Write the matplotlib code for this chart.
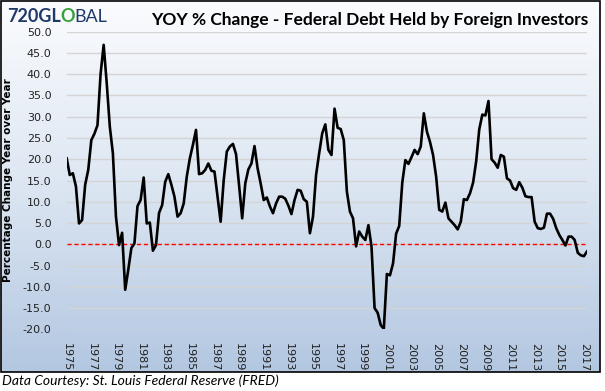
import numpy as np
import matplotlib
matplotlib.use("Agg")
import matplotlib.pyplot as plt
from matplotlib.patches import Rectangle
from matplotlib.colors import LinearSegmentedColormap

# ---- data (quarterly YoY % change, 1975Q1 .. 2017Q2) ----
yoy_change = [
    20.2, 16.3, 16.7, 13.6, 4.9, 5.7, 14.0, 17.5, 24.5, 26.0, 28.0, 40.0, 46.9, 37.9,
    27.7, 21.4, 6.5, -0.2, 2.7, -10.7, -6.0, -0.9, 0.2, 9.0, 10.4, 15.7, 4.9, 5.1,
    -1.5, -0.2, 7.4, 9.2, 14.7, 16.5, 14.0, 11.2, 6.5, 7.3, 9.6, 15.9, 20.2, 23.4,
    26.9, 16.5, 16.7, 17.5, 19.0, 17.3, 17.1, 11.2, 5.3, 15.1, 21.8, 23.0, 23.6, 21.2,
    13.8, 6.1, 14.3, 17.6, 19.0, 23.1, 17.9, 14.3, 10.4, 11.0, 8.9, 7.3, 9.6, 11.2,
    11.2, 10.7, 9.1, 7.1, 10.4, 12.8, 12.6, 10.6, 10.0, 2.6, 6.5, 16.3, 21.4, 26.1, 28.2,
    22.2, 21.0, 31.9, 27.4, 27.1, 24.5, 12.4, 7.7, 6.1, -0.5, 3.0, 1.8, 1.0, 4.5,
    -0.5, -15.0, -16.1, -19.0, -19.9, -7.0, -7.3, -4.5, 2.5, 4.3, 14.5, 19.8, 18.9, 20.5,
    22.2, 21.2, 23.0, 30.8, 26.5, 24.1, 21.0, 15.9, 8.1, 7.7, 9.8, 6.1, 5.3, 4.5,
    3.5, 5.3, 10.6, 10.4, 12.0, 14.5, 19.5, 27.0, 30.5, 30.3, 33.7, 20.0, 19.2, 18.0, 21.0,
    20.6, 15.5, 15.0, 13.2, 12.8, 14.6, 13.3, 11.3, 11.1, 11.1, 5.3, 3.8, 3.6, 3.9,
    7.2, 7.2, 6.0, 3.8, 2.2, 1.0, -0.3, 1.8, 1.8, 1.0, -2.0, -2.6, -2.8, -1.7,
]
start_year = 1975
year_labels = [str(y) for y in range(1975, 2018, 2)]
y_ticks = list(range(-20, 55, 5))

title = "YOY % Change - Federal Debt Held by Foreign Investors"
ylabel = "Percentage Change Year over Year"
caption = "Data Courtesy: St. Louis Federal Reserve (FRED)"

W, H = 605, 391
fig = plt.figure(figsize=(W / 100, H / 100), dpi=100)

# background chart area with gradient + border
bg = fig.add_axes([0, 0, 1, 1], zorder=-5)
bg.set_xlim(0, W)
bg.set_ylim(H, 0)
bg.axis("off")
cmap = LinearSegmentedColormap.from_list("g", ["#fbfcfe", "#dce6f2", "#b3c7e1"])
grad = np.linspace(0, 1, 256).reshape(-1, 1)
bx0, by0, bx1, by1 = 1, 1, 600, 372
bg.imshow(grad, cmap=cmap, aspect="auto", extent=(bx0, bx1, by1, by0), zorder=0)
bg.add_patch(Rectangle((bx0, by0), bx1 - bx0, by1 - by0, fill=False,
                       edgecolor="black", linewidth=1.2, zorder=2))

# main axes
left, right, top, bottom = 66.7, 587.0, 31.7, 329.3
ax = fig.add_axes([left / W, 1 - bottom / H, (right - left) / W, (bottom - top) / H])
ax.set_facecolor("none")
x = np.arange(len(yoy_change))
ax.plot(x, yoy_change, color="black", linewidth=1.9, zorder=3, solid_joinstyle="round")
ax.axhline(0, color="red", linestyle=(0, (3, 2)), linewidth=1.0, zorder=2)

ax.set_xlim(0, len(yoy_change) - 1)
ax.set_ylim(-20, 50)
ax.set_yticks(y_ticks)
ax.set_yticklabels([f"{v:.1f}" for v in y_ticks], fontsize=8, color="#222222")
ax.set_xticks(np.arange(0, len(year_labels) * 8, 8))
ax.set_xticklabels(year_labels, rotation=-90, fontsize=8, color="#222222")
ax.tick_params(axis="both", length=0)
ax.tick_params(axis="y", pad=11)
ax.tick_params(axis="x", pad=10)
ax.grid(axis="y", color="#d4d4d4", linewidth=1.0, zorder=0)
ax.set_axisbelow(True)
for s in ax.spines.values():
    s.set_visible(False)

ax.set_ylabel(ylabel, fontsize=7.5, fontweight="bold", labelpad=4)
ax.yaxis.set_label_coords(-0.103, 0.5)

# title and logo
fig.text(370 / W, 1 - 20 / H, title, fontsize=12.5, fontweight="bold",
         ha="center", va="center", family="Lato")
navy = "#1f3a68"
fig.text(7 / W, 1 - 17 / H, "720GL", fontsize=13, fontweight="bold", color=navy,
         ha="left", va="center", family="Lato")
fig.text(60 / W, 1 - 17 / H, "O", fontsize=13, fontweight="bold", color="#3aa03a",
         ha="left", va="center", family="Lato")
fig.text(74 / W, 1 - 17 / H, "BAL", fontsize=13, color=navy,
         ha="left", va="center", family="Lato")

fig.text(2 / W, 1 - 381 / H, caption, fontsize=10, style="italic",
         ha="left", va="center", family="Lato")

fig.savefig("out.png", dpi=100)
